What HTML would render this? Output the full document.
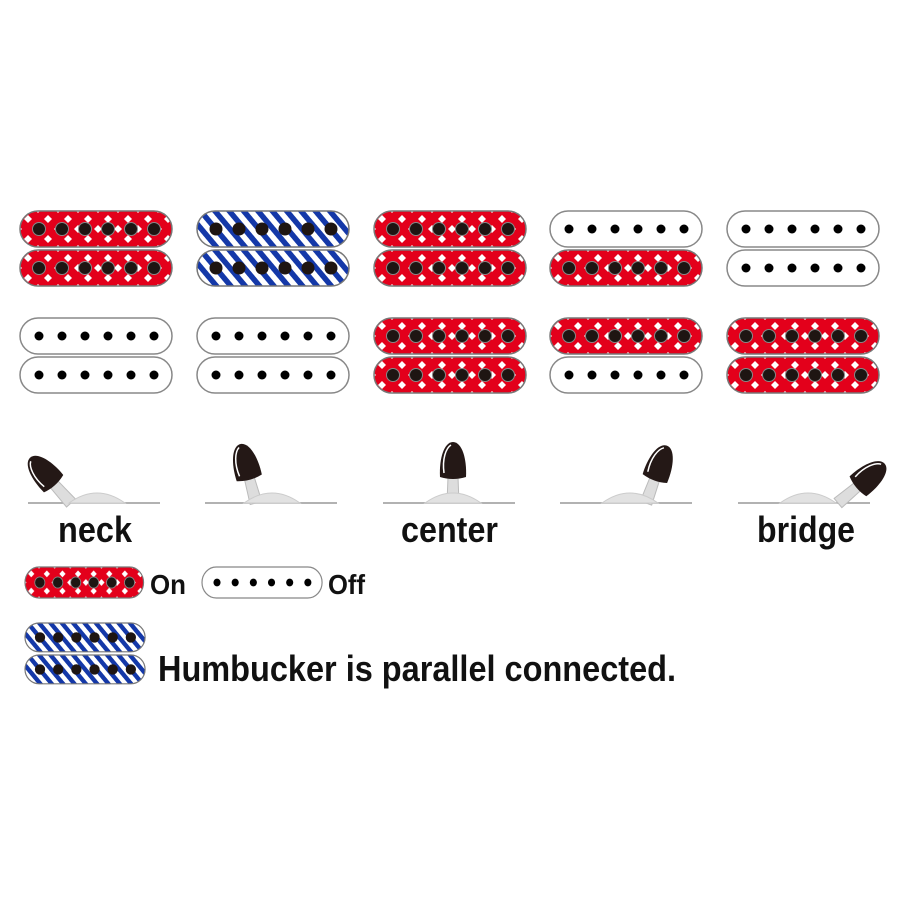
<!DOCTYPE html>
<html><head><meta charset="utf-8"><style>
html,body{margin:0;padding:0;background:#fff;}
svg{display:block}
text{font-family:"Liberation Sans",sans-serif;font-weight:bold;fill:#111}
</style></head><body>
<svg width="900" height="900" viewBox="0 0 900 900" xmlns="http://www.w3.org/2000/svg">
<defs>
<pattern id="red" width="20" height="20" patternUnits="userSpaceOnUse" x="3" y="3">
<rect width="20" height="20" fill="#e3001b"/>
<path d="M5 1 L9 5 L5 9 L1 5Z M15 11 L19 15 L15 19 L11 15Z" fill="#fff"/>
</pattern>
<pattern id="blue" width="11" height="11" patternUnits="userSpaceOnUse" patternTransform="rotate(-40)">
<rect width="11" height="11" fill="#fff"/>
<rect width="5.5" height="11" fill="#1438a8"/>
</pattern>
<g id="holes">
<circle cx="19" cy="0" r="6.5"/><circle cx="42" cy="0" r="6.5"/><circle cx="65" cy="0" r="6.5"/>
<circle cx="88" cy="0" r="6.5"/><circle cx="111" cy="0" r="6.5"/><circle cx="134" cy="0" r="6.5"/>
</g>
<g id="pr"><rect x="0" y="0" width="152" height="36" rx="18" fill="url(#red)" stroke="#777" stroke-width="1.5"/><use href="#holes" y="18" fill="#1e1512" stroke="#888" stroke-width="1"/></g>
<g id="pb"><rect x="0" y="0" width="152" height="36" rx="18" fill="url(#blue)" stroke="#777" stroke-width="1.5"/><use href="#holes" y="18" fill="#1e1512"/></g>
<g id="pw"><rect x="0" y="0" width="152" height="36" rx="18" fill="#fff" stroke="#888" stroke-width="1.5"/><g transform="translate(0,18)"><circle cx="19" cy="0" r="4.5"/><circle cx="42" cy="0" r="4.5"/><circle cx="65" cy="0" r="4.5"/><circle cx="88" cy="0" r="4.5"/><circle cx="111" cy="0" r="4.5"/><circle cx="134" cy="0" r="4.5"/></g></g>
<g id="lever">
<path d="M-6 0 L-5 -26 L5 -26 L6 0 Z" fill="#ddd" stroke="#bbb" stroke-width="1"/>
<path d="M-13 -26 C-14 -44 -9 -61 0 -61 C9 -61 14 -44 13 -26 Q0 -22 -13 -26Z" fill="#241816"/>
<path d="M-9 -30 C-11 -44 -7 -55 -2 -58" stroke="#fff" stroke-width="1.5" fill="none"/>
</g>
<path id="dome" d="M-28 0 Q0 -20 28 0Z" fill="#e2e2e2" stroke="#ccc"/>
</defs>

<use href="#pr" x="20" y="211"/><use href="#pr" x="20" y="250"/>
<use href="#pb" x="197" y="211"/><use href="#pb" x="197" y="250"/>
<use href="#pr" x="374" y="211"/><use href="#pr" x="374" y="250"/>
<use href="#pw" x="550" y="211"/><use href="#pr" x="550" y="250"/>
<use href="#pw" x="727" y="211"/><use href="#pw" x="727" y="250"/>
<use href="#pw" x="20" y="318"/><use href="#pw" x="20" y="357"/>
<use href="#pw" x="197" y="318"/><use href="#pw" x="197" y="357"/>
<use href="#pr" x="374" y="318"/><use href="#pr" x="374" y="357"/>
<use href="#pr" x="550" y="318"/><use href="#pw" x="550" y="357"/>
<use href="#pr" x="727" y="318"/><use href="#pr" x="727" y="357"/>

<g stroke="#999" stroke-width="1.5">
<line x1="28" y1="503" x2="160" y2="503"/><line x1="205" y1="503" x2="337" y2="503"/>
<line x1="383" y1="503" x2="515" y2="503"/><line x1="560" y1="503" x2="692" y2="503"/>
<line x1="738" y1="503" x2="870" y2="503"/>
</g>
<g transform="translate(97,503)"><use href="#lever" transform="translate(-26,0) rotate(-42)"/><use href="#dome"/></g>
<g transform="translate(272,503)"><use href="#lever" transform="translate(-16,0) rotate(-15)"/><use href="#dome"/></g>
<g transform="translate(453,503)"><use href="#lever"/><use href="#dome"/></g>
<g transform="translate(630,503)"><use href="#lever" transform="translate(16,0) rotate(20)"/><use href="#dome"/></g>
<g transform="translate(808,503)"><use href="#dome"/><use href="#lever" transform="translate(30,0) rotate(50)"/></g>

<text x="58" y="542" font-size="36" textLength="74" lengthAdjust="spacingAndGlyphs">neck</text>
<text x="401" y="542" font-size="36" textLength="97" lengthAdjust="spacingAndGlyphs">center</text>
<text x="757" y="542" font-size="36" textLength="98" lengthAdjust="spacingAndGlyphs">bridge</text>

<g transform="translate(25,567) scale(0.78,0.86)"><use href="#pr"/></g>
<text x="150" y="594" font-size="28" textLength="36" lengthAdjust="spacingAndGlyphs">On</text>
<g transform="translate(202,567) scale(0.79,0.86)"><use href="#pw"/></g>
<text x="328" y="594" font-size="28" textLength="37" lengthAdjust="spacingAndGlyphs">Off</text>
<g transform="translate(25,623) scale(0.79,0.8)"><use href="#pb"/></g>
<g transform="translate(25,655) scale(0.79,0.8)"><use href="#pb"/></g>
<text x="158" y="681" font-size="36" textLength="518" lengthAdjust="spacingAndGlyphs">Humbucker is parallel connected.</text>
</svg>
</body></html>
